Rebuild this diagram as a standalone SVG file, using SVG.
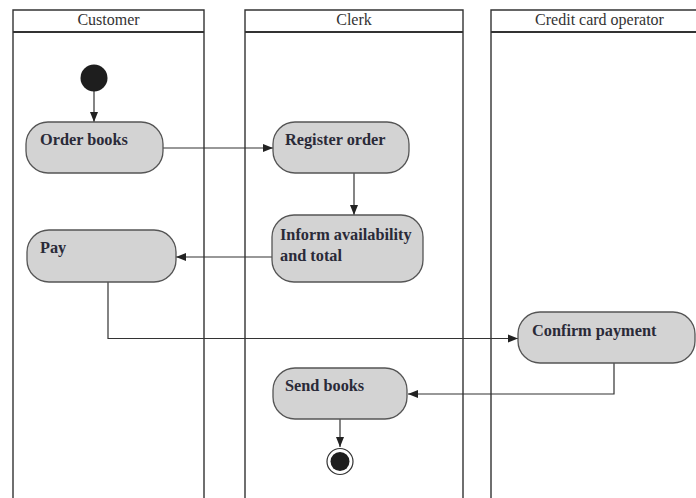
<svg xmlns="http://www.w3.org/2000/svg" width="696" height="498" viewBox="0 0 696 498">
<style>
.lane{fill:none;stroke:#333;stroke-width:1.4}
.hdr{stroke:#333;stroke-width:2.2}
.ht{font-family:"Liberation Serif",serif;font-size:16px;fill:#333;text-anchor:middle}
.box{fill:#d3d3d3;stroke:#555;stroke-width:1.3}
.bt{font-family:"Liberation Serif",serif;font-size:16.3px;font-weight:bold;fill:#2a2a38}
.edge{fill:none;stroke:#333;stroke-width:1.2}
</style>
<defs>
<marker id="ah" viewBox="0 0 10 10" refX="10" refY="5" markerWidth="10" markerHeight="10" markerUnits="userSpaceOnUse" orient="auto">
<path d="M0,1 L10,5 L0,9 Z" fill="#222"/>
</marker>
</defs>
<rect width="696" height="498" fill="#fff"/>
<g id="lane-customer">
<path class="lane" d="M13,498 V10 H204 V498"/>
<line class="hdr" x1="13" y1="32" x2="204" y2="32"/>
<text class="ht" x="108.5" y="25">Customer</text>
</g>
<g id="lane-clerk">
<path class="lane" d="M245,498 V10 H463 V498"/>
<line class="hdr" x1="245" y1="32" x2="463" y2="32"/>
<text class="ht" x="354" y="25">Clerk</text>
</g>
<g id="lane-credit">
<path class="lane" d="M491,498 V10 H697"/>
<line class="hdr" x1="491" y1="32" x2="697" y2="32"/>
<text class="ht" x="599.5" y="25">Credit card operator</text>
</g>
<g id="connectors">
<line class="edge" x1="94" y1="91" x2="94" y2="122" marker-end="url(#ah)"/>
<line class="edge" x1="163" y1="148" x2="273" y2="148" marker-end="url(#ah)"/>
<line class="edge" x1="354" y1="173" x2="354" y2="215" marker-end="url(#ah)"/>
<line class="edge" x1="272" y1="257" x2="176" y2="257" marker-end="url(#ah)"/>
<path class="edge" d="M108,282 V338.5 H518" marker-end="url(#ah)"/>
<path class="edge" d="M614,363 V394 H408" marker-end="url(#ah)"/>
<line class="edge" x1="340" y1="419" x2="340" y2="447" marker-end="url(#ah)"/>
</g>
<g id="start">
<circle cx="94" cy="78" r="13.5" fill="#1e1e1e"/>
</g>
<g id="order-books">
<rect class="box" x="26" y="122" width="137" height="51" rx="22"/>
<text class="bt" x="40" y="145">Order books</text>
</g>
<g id="register-order">
<rect class="box" x="273" y="122" width="136" height="51" rx="22"/>
<text class="bt" x="285" y="145">Register order</text>
</g>
<g id="inform">
<rect class="box" x="272" y="215" width="151" height="67" rx="22"/>
<text class="bt" x="280" y="240">Inform availability</text>
<text class="bt" x="280" y="261">and total</text>
</g>
<g id="pay">
<rect class="box" x="27" y="230" width="149" height="52" rx="22"/>
<text class="bt" x="40" y="253">Pay</text>
</g>
<g id="confirm-payment">
<rect class="box" x="518" y="312" width="177" height="51" rx="22"/>
<text class="bt" x="532" y="336">Confirm payment</text>
</g>
<g id="send-books">
<rect class="box" x="273" y="368" width="134" height="51" rx="22"/>
<text class="bt" x="285" y="391">Send books</text>
</g>
<g id="end">
<circle cx="340" cy="461.5" r="13" fill="#fff" stroke="#333" stroke-width="1.2"/>
<circle cx="340" cy="461.5" r="9.5" fill="#1e1e1e"/>
</g>
</svg>
